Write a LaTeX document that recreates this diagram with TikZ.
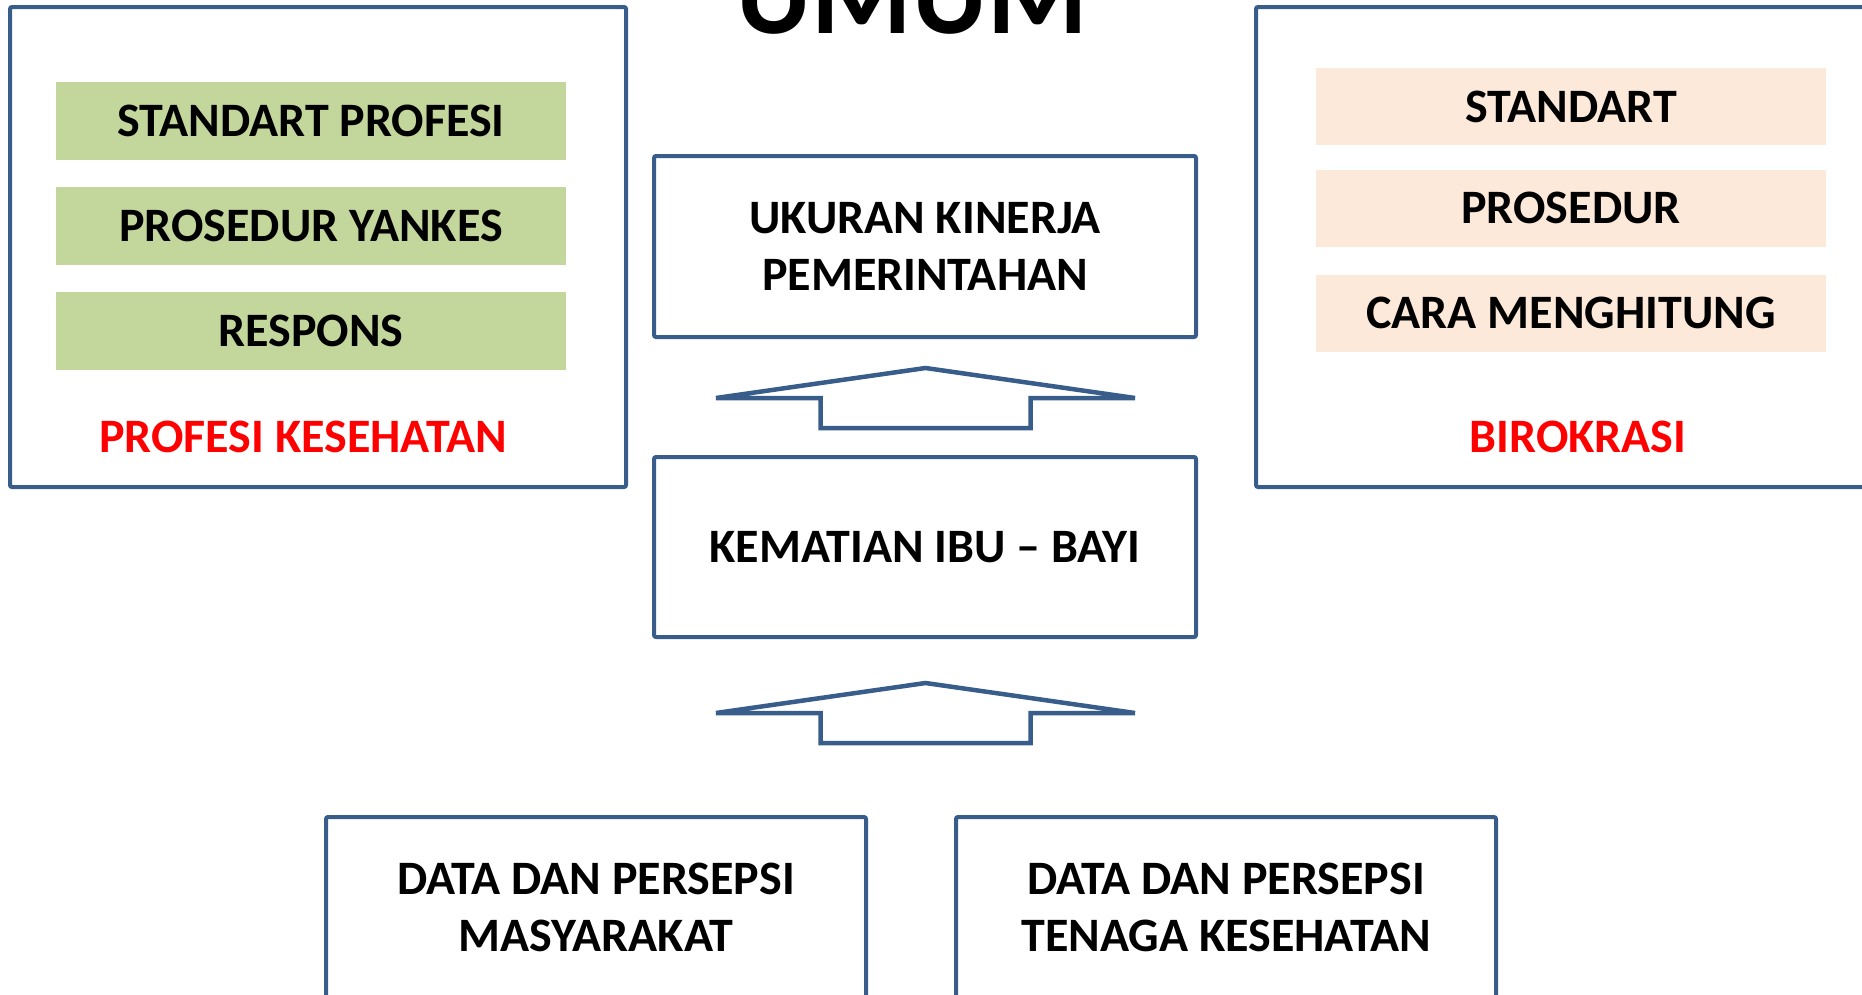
\documentclass[tikz,border=0pt]{standalone}
\usepackage{fontspec}
\setmainfont{Carlito}
\usetikzlibrary{calc}
\definecolor{bordc}{RGB}{56,93,138}
\definecolor{greenc}{RGB}{195,214,155}
\definecolor{peachc}{RGB}{253,233,217}
\definecolor{redc}{RGB}{255,0,0}
\begin{document}
\begin{tikzpicture}[x=1pt,y=-1pt,
  frame/.style={draw=bordc, line width=4pt, rounded corners=2pt, inner sep=0pt},
  txt/.style={font=\fontsize{48}{57}\selectfont\bfseries, align=center, text=black},
  gbar/.style={txt, fill=greenc, minimum width=510pt, minimum height=78pt, inner sep=0pt},
  pbar/.style={txt, fill=peachc, minimum width=510pt, minimum height=77pt, inner sep=0pt},
  redlbl/.style={txt, text=redc},
  cbox/.style={frame, txt, minimum width=542pt, minimum height=181pt},
  bbox/.style={frame, txt, minimum width=540pt, minimum height=181pt},
  blockarrow/.style={draw=bordc, line width=4.5pt, line join=miter},
  pics/uparrow/.style={code={
    \draw[blockarrow] (0,0) -- (209.5,30) -- (105,30) -- (105,60) -- (-105,60) -- (-105,30) -- (-209.5,30) -- cycle;
  }}
]
\path[use as bounding box] (0,0) rectangle (1862,994);
\clip (0,0) rectangle (1862,994);

% title
\node[font=\fontsize{115}{115}\selectfont\bfseries, anchor=base, inner sep=0pt] (title) at (912,33) {UMUM};

% left group
\node[frame, minimum width=616pt, minimum height=480pt] (lbox) at (318,247) {};
\node[gbar] (g1) at (311,121) {STANDART PROFESI};
\node[gbar] (g2) at (311,226) {PROSEDUR YANKES};
\node[gbar] (g3) at (311,331) {RESPONS};
\node[redlbl] (ltitle) at (303,437) {PROFESI KESEHATAN};

% right group
\node[frame, minimum width=644pt, minimum height=480pt] (rbox) at (1578,247) {};
\node[pbar] (p1) at (1571,106.5) {STANDART};
\node[pbar] (p2) at (1571,208) {PROSEDUR};
\node[pbar] (p3) at (1571,313) {CARA MENGHITUNG};
\node[redlbl] (rtitle) at (1578,437) {BIROKRASI};

% center column
\node[cbox] (b1) at (925,246.5) {UKURAN KINERJA\\PEMERINTAHAN};
\node[cbox, minimum height=180pt] (b2) at (925,547) {KEMATIAN IBU -- BAYI};

% bottom boxes
\node[bbox] (d1) at (596,907.5) {DATA DAN PERSEPSI\\MASYARAKAT};
\node[bbox] (d2) at (1226,907.5) {DATA DAN PERSEPSI\\TENAGA KESEHATAN};

% block arrows
\coordinate (a1) at ($(b1.south)+(0.5,29)$);
\coordinate (a2) at ($(b2.south)+(0.5,44)$);
\pic at (a1) {uparrow};
\pic at (a2) {uparrow};
\end{tikzpicture}
\end{document}
